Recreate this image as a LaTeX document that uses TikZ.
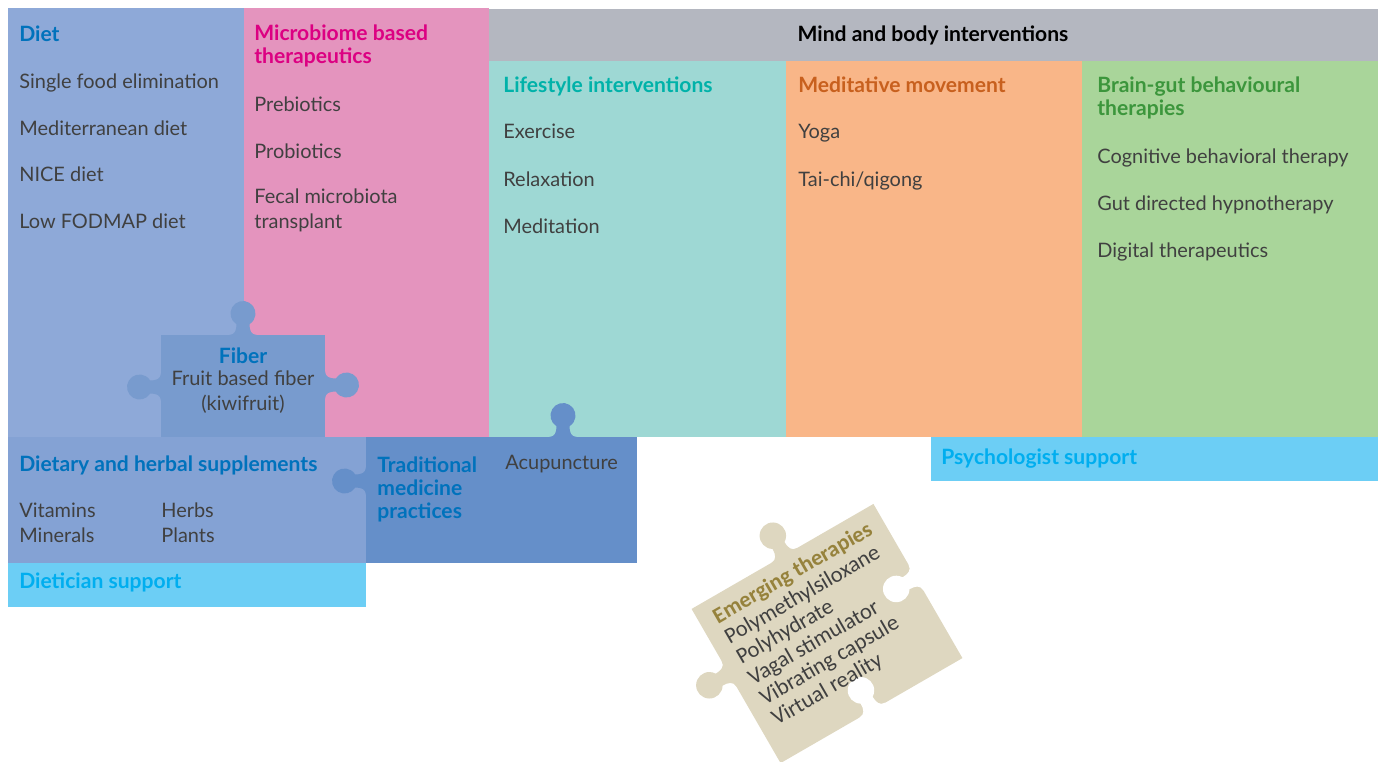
\documentclass[tikz,border=0pt]{standalone}
\usepackage{fontspec}
\setmainfont{Lato}
\newfontfamily\emfont{Carlito}
\usepackage{tikz}
\usepackage{xcolor}

% box fills
\definecolor{dietblue}{HTML}{8EA9D8}
\definecolor{microbpink}{HTML}{E494BE}
\definecolor{headgray}{HTML}{B4B7C0}
\definecolor{lifeteal}{HTML}{9ED8D4}
\definecolor{medorange}{HTML}{F9B688}
\definecolor{braingreen}{HTML}{A9D59A}
\definecolor{suppblue}{HTML}{84A2D4}
\definecolor{fiberblue}{HTML}{789BCE}
\definecolor{tradblue}{HTML}{658FC9}
\definecolor{supportcyan}{HTML}{6CCEF5}
\definecolor{emergbeige}{HTML}{DED7C0}
% text colours
\definecolor{txtblue}{HTML}{0072BC}
\definecolor{txtpink}{HTML}{DC0082}
\definecolor{txtteal}{HTML}{00B2A9}
\definecolor{txtorange}{HTML}{C8601E}
\definecolor{txtgreen}{HTML}{3C963C}
\definecolor{txtcyan}{HTML}{00AEEF}
\definecolor{txtgold}{HTML}{96823C}
\definecolor{txtgray}{HTML}{404040}

\tikzset{
  title/.style={anchor=base west, inner sep=0pt, align=left,
    font=\bfseries\fontsize{12}{13}\selectfont},
  item/.style={anchor=base west, inner sep=0pt, align=left, text=txtgray,
    font=\fontsize{11.35}{13.8}\selectfont},
  emtext/.style={anchor=base west, inner sep=0pt, align=left, text=txtgray,
    font=\emfont\fontsize{12.8}{13.4}\selectfont},
  % puzzle knob, base on the edge, pointing up; #1 colour, #2 size
  pics/knob/.style n args={2}{code={
    \fill[#1, scale=#2] (-14,1) -- (-14,0) .. controls (-8,0) and (-6.5,-5) .. (-6.5,-10.8)
      arc[start angle=121.3, end angle=418.7, radius=12.5]
      .. controls (6.5,-5) and (8,0) .. (14,0) -- (14,1) -- cycle;
  }}
}

\begin{document}
\begin{tikzpicture}[x=0.02cm, y=-0.02cm]
    \useasboundingbox (0,0) rectangle (1379,761);
    % Diet and microbiome columns
    \fill[dietblue] (8,8) rectangle (244,437);
    \fill[microbpink] (244,8) rectangle (489,437);
    % Mind and body block
    \fill[headgray] (489,9) rectangle (1378,61);
    \fill[lifeteal] (489,61) rectangle (786,437);
    \fill[medorange] (786,61) rectangle (1082,437);
    \fill[braingreen] (1082,61) rectangle (1378,437);
    \fill[supportcyan] (931,437) rectangle (1378,481);
    % Supplements and dietician support
    \fill[suppblue] (8,437) rectangle (366,563);
    \fill[supportcyan] (8,563) rectangle (366,607);
    % Fiber piece
    \fill[fiberblue] (161,335) rectangle (325,437);
    \pic at (243,335) {knob={fiberblue}{1}};
    \pic[rotate=90] at (161,387) {knob={fiberblue}{1}};
    \pic[rotate=-90] at (325,385) {knob={fiberblue}{1}};
    % Traditional medicine piece
    \fill[tradblue] (366,437) rectangle (637,563);
    \pic at (563,437) {knob={tradblue}{1}};
    \pic[rotate=90] at (366,481) {knob={tradblue}{1}};
    % Emerging therapies piece, turned
    \begin{scope}[shift={(827,633.5)}, rotate=30]
        \fill[emergbeige] (-105,-89) rectangle (105,89);
        \pic[transform shape] at (2,-89) {knob={emergbeige}{1.06}};
        \pic[transform shape, rotate=90] at (-105,-14) {knob={emergbeige}{1.06}};
        \pic[transform shape, rotate=90] at (105,-4) {knob={white}{1.06}};
        \pic[transform shape] at (1,89) {knob={white}{1.06}};
        \node[emtext, transform shape] (emerging) at (-90,55)
            {\textbf{\textcolor{txtgold}{Emerging therapies}}\\ Polymethylsiloxane\\ Polyhydrate\\
             Vagal stimulator\\ Vibrating capsule\\ Virtual reality};
    \end{scope}

    % Diet
    \node[title, text=txtblue] (diet) at (19,41) {Diet};
    \node[item] (diet1) at (19,88) {Single food elimination};
    \node[item] (diet2) at (19,135) {Mediterranean diet};
    \node[item] (diet3) at (19,181) {NICE diet};
    \node[item] (diet4) at (19,228) {Low FODMAP diet};
    % Microbiome
    \node[title, text=txtpink] (microb) at (254,63) {Microbiome based\\ therapeutics};
    \node[item] (microb1) at (254,111) {Prebiotics};
    \node[item] (microb2) at (254,158) {Probiotics};
    \node[item] (microb3) at (254,228) {Fecal microbiota\\ transplant};
    % Mind and body
    \node[title, anchor=base, text=black] (mindbody) at (933,41) {Mind and body interventions};
    \node[title, text=txtteal] (life) at (503,92) {Lifestyle interventions};
    \node[item] (life1) at (503,138) {Exercise};
    \node[item] (life2) at (503,186) {Relaxation};
    \node[item] (life3) at (503,233) {Meditation};
    \node[title, text=txtorange] (medmove) at (798,92) {Meditative movement};
    \node[item] (medmove1) at (798,138) {Yoga};
    \node[item] (medmove2) at (798,186) {Tai-chi/qigong};
    \node[title, text=txtgreen] (braingut) at (1097,115) {Brain-gut behavioural\\ therapies};
    \node[item] (braingut1) at (1097,163) {Cognitive behavioral therapy};
    \node[item] (braingut2) at (1097,210) {Gut directed hypnotherapy};
    \node[item] (braingut3) at (1097,257) {Digital therapeutics};
    \node[title, text=txtcyan] (psych) at (941,464) {Psychologist support};
    % Fiber
    \node[title, anchor=base, text=txtblue] (fiber) at (243,363) {Fiber};
    \node[item, anchor=base, align=center] (fiber1) at (243,410) {Fruit based fiber\\ (kiwifruit)};
    % Supplements
    \node[title, text=txtblue] (supp) at (19,471) {Dietary and herbal supplements};
    \node[item] (supp1) at (19,542) {Vitamins\\ Minerals};
    \node[item] (supp2) at (161,542) {Herbs\\ Plants};
    \node[title, text=txtcyan] (dietician) at (19,588) {Dietician support};
    % Traditional medicine
    \node[title, text=txtblue] (trad) at (377,518) {Traditional\\ medicine\\ practices};
    \node[item] (trad1) at (505,469) {Acupuncture};
\end{tikzpicture}
\end{document}
